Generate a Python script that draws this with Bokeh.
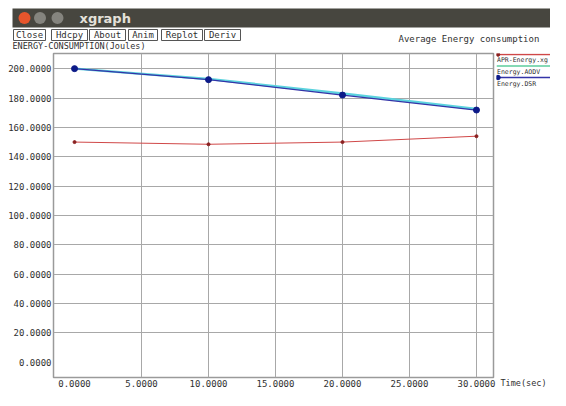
from bokeh.plotting import figure
from bokeh.models import Range1d, FixedTicker, NumeralTickFormatter
from bokeh.layouts import column, row
from bokeh.core.properties import value
from bokeh.embed import file_html
from bokeh.resources import INLINE

# ---- data ----
time = [0, 10, 20, 30]
apr_energy = [150.0, 148.5, 150.0, 154.0]
aodv_energy = [200.0, 193.0, 183.0, 172.5]
dsr_energy = [200.0, 192.5, 182.0, 171.8]
series_names = ["APR-Energy.xg", "Energy.AODV", "Energy.DSR"]
x_ticks = [0, 5, 10, 15, 20, 25, 30]
y_ticks = [0, 20, 40, 60, 80, 100, 120, 140, 160, 180, 200]
buttons = ["Close", "Hdcpy", "About", "Anim", "Replot", "Deriv"]
window_title = "xgraph"
plot_title = "Average Energy consumption"
y_label = "ENERGY-CONSUMPTION(Joules)"
x_label = "Time(sec)"

MONO = value("DejaVu Sans Mono")
TXT = "#303030"
RED, CYAN, BLUE = "#d04848", "#5cd3de", "#3434a8"

# ---- header (window chrome) ----
hdr = figure(width=550, height=50, x_range=Range1d(0, 550), y_range=Range1d(50, 0),
             output_backend="svg", toolbar_location=None, min_border=0,
             x_axis_type=None, y_axis_type=None)
hdr.grid.visible = False
hdr.outline_line_color = None
hdr.quad(left=12, right=550, top=8, bottom=27, fill_color="#47463f", line_color=None)
hdr.scatter(x=[24, 39.5, 57], y=[17.5] * 3, size=12,
            fill_color=["#e7552c", "#85847e", "#85847e"], line_color=None)
hdr.text(x=[79], y=[17.5], text=[window_title], text_font=value("DejaVu Sans"),
         text_font_style="bold", text_font_size="13px", text_color="#e4e1da",
         text_baseline="middle")
btn_left = [13, 51, 89, 128, 161, 204]
btn_right = [45, 87, 125, 157, 202, 240]
hdr.quad(left=btn_left, right=btn_right, top=29, bottom=40, fill_color="white",
         line_color="#555555", line_width=1)
hdr.text(x=[(a + b) / 2 for a, b in zip(btn_left, btn_right)], y=[34.5] * 6, text=buttons,
         text_font=MONO, text_font_size="9px", text_color=TXT,
         text_align="center", text_baseline="middle")
hdr.text(x=[398], y=[38], text=[plot_title], text_font=MONO, text_font_size="9px",
         text_color=TXT, text_baseline="middle")
hdr.text(x=[12], y=[45], text=[y_label], text_font=MONO, text_font_size="8.5px",
         text_color=TXT, text_baseline="middle")

# ---- main plot ----
p = figure(width=496, height=340, x_range=Range1d(-1.57, 31.27), y_range=Range1d(-10.3, 210.3),
           output_backend="svg", toolbar_location=None,
           min_border_left=53, min_border_right=3, min_border_top=3, min_border_bottom=13)
p.outline_line_color = "#9a9a9a"
p.outline_line_width = 1.5
for ax in (p.xaxis, p.yaxis):
    ax.axis_line_color = None
    ax.major_tick_line_color = None
    ax.minor_tick_line_color = None
    ax.major_tick_out = 0
    ax.major_tick_in = 0
    ax.minor_tick_out = 0
    ax.minor_tick_in = 0
    ax.major_label_text_font = "DejaVu Sans Mono"
    ax.major_label_text_font_size = "9px"
    ax.major_label_text_color = TXT
    ax.formatter = NumeralTickFormatter(format="0.0000")
p.xaxis.ticker = FixedTicker(ticks=x_ticks)
p.yaxis.ticker = FixedTicker(ticks=y_ticks)
p.xaxis.major_label_standoff = 2
p.yaxis.major_label_standoff = 2
p.xgrid.ticker = FixedTicker(ticks=x_ticks[1:])
p.ygrid.ticker = FixedTicker(ticks=y_ticks[1:])
p.grid.grid_line_color = "#a8a8a8"
p.grid.grid_line_width = 1

p.line(time, apr_energy, color=RED, line_width=1)
p.scatter(time, apr_energy, size=3, color="#8a2020")
p.line(time, aodv_energy, color=CYAN, line_width=2.5)
p.line(time, dsr_energy, color=BLUE, line_width=1.3)
p.scatter(time, dsr_energy, size=6, color="#0c1a88")

# ---- legend area (frame aligned with the plot frame) ----
leg = figure(width=54, height=340, x_range=Range1d(496, 550), y_range=Range1d(377, 53),
             output_backend="svg", toolbar_location=None, min_border=0,
             min_border_top=3, min_border_bottom=13, y_axis_type=None)
leg.grid.visible = False
leg.outline_line_color = None
leg.xaxis.ticker = FixedTicker(ticks=[])
leg.xaxis.axis_line_color = None
leg.xaxis.major_tick_out = 0
leg.xaxis.minor_tick_out = 0
leg.xaxis.axis_label = x_label
leg.xaxis.axis_label_standoff = 0
leg.xaxis.axis_label_text_font = "DejaVu Sans Mono"
leg.xaxis.axis_label_text_font_size = "8.5px"
leg.xaxis.axis_label_text_font_style = "normal"
leg.xaxis.axis_label_text_color = TXT
leg.segment(x0=[496] * 3, x1=[550] * 3, y0=[54, 65.5, 77], y1=[54, 65.5, 77],
            color=[RED, "#5ccc9c", BLUE], line_width=1.5)
leg.scatter(x=[497.5, 497.5], y=[54, 77], size=[3.5, 4.5], color=["#8a2020", "#0c1a88"])
leg.text(x=[496.5] * 3, y=[59.5, 71, 83], text=series_names, text_font=MONO,
         text_font_size="6.5px", text_color=TXT, text_baseline="middle")

layout = column(hdr, row(p, leg))
open("out.html", "w").write(file_html(layout, INLINE))
